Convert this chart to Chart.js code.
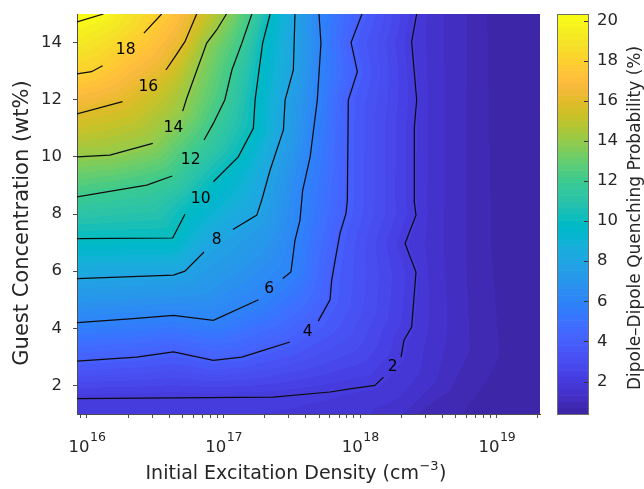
<!DOCTYPE html>
<html><head><meta charset="utf-8">
<script src="https://cdn.jsdelivr.net/npm/chart.js@4/dist/chart.umd.min.js"></script>
<style>html,body{margin:0;padding:0;background:#fff;}#wrap{width:644px;height:489px;}</style>
</head><body><div id="wrap"><canvas id="c" width="644" height="489"></canvas></div>
<script>
// ---------- axis ranges & ticks ----------
const xRange = [8.45e15, 2.07e19];
const yRange = [1, 15];
const cRange = [0.38, 20.33];
const xMajorTicks = [1e16, 1e17, 1e18, 1e19];
const xTickExponents = ['16', '17', '18', '19'];
const xMinorTicks = [9e15, 2e16, 3e16, 4e16, 5e16, 6e16, 7e16, 8e16, 9e16,
  2e17, 3e17, 4e17, 5e17, 6e17, 7e17, 8e17, 9e17,
  2e18, 3e18, 4e18, 5e18, 6e18, 7e18, 8e18, 9e18, 2e19];
const yTicks = [2, 4, 6, 8, 10, 12, 14];
const cbTicks = [2, 4, 6, 8, 10, 12, 14, 16, 18, 20];
const xTitleMain = 'Initial Excitation Density (cm';
const xTitleExp = '\u22123';
const xTitleEnd = ')';
const yTitle = 'Guest Concentration (wt%)';
const cTitle = 'Dipole\u2013Dipole Quenching Probability (%)';

// ---------- contour lines: [x (cm^-3), y (wt%)], null = label gap ----------
const contour2 = [[8.45e15,1.54],[2.30e17,1.59],[6.01e17,1.77],[8.41e17,1.88],[1.28e18,2.0],[1.48e18,2.29],null,
  [1.99e18,2.99],[2.09e18,3.58],[2.38e18,4.04],[2.56e18,5.97],[2.13e18,6.97],[2.56e18,7.96],[2.48e18,8.48],
  [2.49e18,11.05],[2.59e18,11.99],[2.38e18,14.03],[2.59e18,15]];
const contour4 = [[8.45e15,2.85],[2.31e16,2.99],[4.29e16,3.17],[8.41e16,2.88],[1.36e17,2.99],[1.85e17,3.19],[3.06e17,3.52],null,
  [4.93e17,4.25],[6.01e17,5.0],[6.18e17,5.68],[6.55e17,6.38],[7.11e17,7.32],[7.87e17,8.02],[8.05e17,8.48],
  [8.18e17,11.99],[9.53e17,12.98],[8.57e17,14.0],[1.03e18,15]];
const contour6 = [[8.45e15,4.20],[2.18e16,4.34],[4.29e16,4.45],[8.41e16,4.28],[1.80e17,5.0],null,
  [2.71e17,5.74],[3.11e17,5.97],[3.33e17,7.08],[3.62e17,7.78],[3.79e17,8.83],[4.30e17,10.0],[4.85e17,11.99],
  [5.16e17,13.98],[4.99e17,15]];
const contour8 = [[8.45e15,5.74],[4.29e16,5.86],[5.21e16,6.0],[7.19e16,6.67],null,
  [1.17e17,7.46],[1.75e17,7.96],[1.90e17,8.48],[2.19e17,9.54],[2.74e17,10.94],[2.82e17,11.99],[3.24e17,13.04],[3.33e17,15]];
const contour10 = [[8.45e15,7.14],[4.24e16,7.16],[5.21e16,7.99],null,
  [8.41e16,9.13],[1.28e17,10.0],[1.65e17,11.0],[1.70e17,11.99],[1.93e17,13.98],[2.19e17,15]];
const contour12 = [[8.45e15,8.60],[2.74e16,9.01],[4.21e16,9.33],null,
  [7.19e16,10.59],[8.41e16,11.17],[1.02e17,11.99],[1.15e17,13.04],[1.36e17,13.98],[1.61e17,15]];
const contour14 = [[8.45e15,10.0],[1.47e16,10.06],[3.03e16,10.47],null,
  [5.02e16,11.6],[5.37e16,12.05],[7.52e16,13.98],[8.89e16,14.44],[1.05e17,15]];
const contour16 = [[8.45e15,11.5],[1.82e16,11.93],null,
  [3.78e16,13.04],[4.41e16,13.51],[5.21e16,14.03],[6.35e16,15]];
const contour18 = [[8.45e15,12.9],[1.08e16,12.98],[1.30e16,13.19],null,
  [2.61e16,14.33],[3.52e16,15]];
const contour20 = [[8.45e15,14.72],[1.32e16,15]];
const contourLevels = [2, 4, 6, 8, 10, 12, 14, 16, 18, 20];
const contourLines = [contour2, contour4, contour6, contour8, contour10, contour12, contour14, contour16, contour18, contour20];

// faint band edges of the shading below 2 % (not drawn as lines), bottom -> top
const iso05 = [[7.53e18,1.0],[1.05e19,1.72],[1.43e19,2.98],[1.19e19,6.73],[1.05e19,15]];
const iso10 = [[2.61e18,1.0],[4.54e18,1.82],[6.37e18,3.23],[5.96e18,6.73],[6.05e18,15]];
const iso15 = [[1.40e18,1.0],[2.13e18,1.30],[3.08e18,2.28],[3.53e18,4.38],[3.30e18,6.73],[3.41e18,11.29],[3.24e18,15]];
const guideLevels = [0.5, 1.0, 1.5];
const guideLines = [iso05, iso10, iso15];

// contour labels: text, x, y
const labelText = ['18', '16', '14', '12', '10', '8', '6', '4', '2'];
const labelX = [1.92e16, 2.81e16, 4.29e16, 5.74e16, 6.79e16, 8.91e16, 2.16e17, 4.13e17, 1.73e18];
const labelY = [13.74, 12.46, 11.02, 9.89, 8.54, 7.08, 5.39, 3.87, 2.64];

// ---------- parula colormap (64 entries) ----------
const parula = [[0.2422,0.1504,0.6603],[0.2504,0.1650,0.7076],[0.2578,0.1818,0.7511],[0.2647,0.1978,0.7952],
[0.2706,0.2147,0.8364],[0.2751,0.2342,0.8710],[0.2783,0.2559,0.8991],[0.2803,0.2782,0.9221],[0.2813,0.3006,0.9414],
[0.2810,0.3228,0.9579],[0.2795,0.3447,0.9717],[0.2760,0.3667,0.9829],[0.2699,0.3892,0.9906],[0.2602,0.4123,0.9952],
[0.2440,0.4358,0.9988],[0.2206,0.4603,0.9973],[0.1963,0.4847,0.9892],[0.1834,0.5074,0.9798],[0.1786,0.5289,0.9682],
[0.1764,0.5499,0.9520],[0.1687,0.5703,0.9359],[0.1540,0.5902,0.9218],[0.1460,0.6091,0.9079],[0.1380,0.6276,0.8973],
[0.1248,0.6459,0.8883],[0.1113,0.6635,0.8763],[0.0952,0.6798,0.8598],[0.0689,0.6948,0.8394],[0.0297,0.7082,0.8163],
[0.0036,0.7203,0.7917],[0.0067,0.7312,0.7660],[0.0433,0.7411,0.7394],[0.0964,0.7500,0.7120],[0.1408,0.7584,0.6842],
[0.1717,0.7670,0.6554],[0.1938,0.7758,0.6251],[0.2161,0.7843,0.5923],[0.2470,0.7918,0.5567],[0.2906,0.7973,0.5188],
[0.3406,0.8008,0.4789],[0.3909,0.8029,0.4354],[0.4456,0.8024,0.3909],[0.5044,0.7993,0.3480],[0.5616,0.7942,0.3045],
[0.6174,0.7876,0.2612],[0.6720,0.7793,0.2227],[0.7242,0.7698,0.1910],[0.7738,0.7598,0.1646],[0.8203,0.7498,0.1535],
[0.8634,0.7406,0.1596],[0.9035,0.7330,0.1774],[0.9393,0.7288,0.2100],[0.9728,0.7298,0.2394],[0.9956,0.7434,0.2371],
[0.9970,0.7659,0.2199],[0.9952,0.7893,0.2028],[0.9892,0.8136,0.1885],[0.9786,0.8386,0.1766],[0.9676,0.8639,0.1643],
[0.9610,0.8890,0.1537],[0.9597,0.9135,0.1423],[0.9628,0.9373,0.1265],[0.9691,0.9606,0.1060],[0.9769,0.9839,0.0805]];

const FONT = '"DejaVu Sans", sans-serif';
const TXT = '#262626';
const AXC = '#4d4d4d';
Chart.defaults.font.family = FONT;
Chart.defaults.color = TXT;

function colorIndex(z) {
  let i = Math.floor((z - cRange[0]) / (cRange[1] - cRange[0]) * parula.length);
  return Math.max(0, Math.min(parula.length - 1, i));
}
function distPoly(px, py, pts) {
  let best = Infinity;
  for (let k = 0; k < pts.length - 1; k++) {
    const ax = pts[k][0], ay = pts[k][1], dx = pts[k + 1][0] - ax, dy = pts[k + 1][1] - ay;
    const l2 = dx * dx + dy * dy;
    let t = l2 > 0 ? ((px - ax) * dx + (py - ay) * dy) / l2 : 0;
    t = t < 0 ? 0 : (t > 1 ? 1 : t);
    const ex = ax + t * dx - px, ey = ay + t * dy - py;
    const d = ex * ex + ey * ey;
    if (d < best) best = d;
  }
  return Math.sqrt(best);
}
function buildHeat(chart, W, H) {
  const a = chart.chartArea, xs = chart.scales.x, ys = chart.scales.y;
  const P = (x, y) => [xs.getPixelForValue(x) - a.left, ys.getPixelForValue(y) - a.top];
  const list = [];
  guideLevels.forEach((v, i) => list.push({ value: v, pts: guideLines[i] }));
  contourLevels.forEach((v, i) => list.push({ value: v, pts: contourLines[i].filter(Boolean) }));
  list.sort((p, q) => p.value - q.value);
  const isos = list.map(it => ({ value: it.value, fromBottom: it.pts[0][1] <= yRange[0], px: it.pts.map(p => P(p[0], p[1])) }));
  const tl = P(xRange[0], yRange[1]), bl = P(xRange[0], yRange[0]);
  const n = isos.length;
  const count = new Uint8Array(W * H);
  const mc = document.createElement('canvas'); mc.width = W; mc.height = H;
  const m = mc.getContext('2d');
  isos.forEach(iso => {
    m.clearRect(0, 0, W, H);
    m.beginPath();
    iso.px.forEach((p, i) => i ? m.lineTo(p[0], p[1]) : m.moveTo(p[0], p[1]));
    m.lineTo(tl[0], tl[1]);
    if (iso.fromBottom) m.lineTo(bl[0], bl[1]);
    m.closePath(); m.fillStyle = '#000'; m.fill();
    const d = m.getImageData(0, 0, W, H).data;
    for (let i = 0; i < W * H; i++) if (d[i * 4 + 3] >= 128) count[i]++;
  });
  const out = document.createElement('canvas'); out.width = W; out.height = H;
  const o = out.getContext('2d');
  const img = o.createImageData(W, H);
  for (let y = 0; y < H; y++) {
    for (let x = 0; x < W; x++) {
      const idx = y * W + x, c = count[idx], px = x + 0.5, py = y + 0.5;
      let zLo, zHi, dLo, dHi;
      if (c === 0) {
        zLo = cRange[0]; dLo = Math.min(W - px, H - py);
        zHi = isos[0].value; dHi = distPoly(px, py, isos[0].px);
      } else if (c >= n) {
        zLo = isos[n - 1].value; dLo = distPoly(px, py, isos[n - 1].px);
        zHi = cRange[1]; dHi = Math.hypot(px - tl[0], py - tl[1]);
      } else {
        zLo = isos[c - 1].value; dLo = distPoly(px, py, isos[c - 1].px);
        zHi = isos[c].value; dHi = distPoly(px, py, isos[c].px);
      }
      const z = zLo + (zHi - zLo) * dLo / (dLo + dHi + 1e-9);
      const col = parula[colorIndex(z)];
      img.data[idx * 4] = Math.round(col[0] * 255);
      img.data[idx * 4 + 1] = Math.round(col[1] * 255);
      img.data[idx * 4 + 2] = Math.round(col[2] * 255);
      img.data[idx * 4 + 3] = 255;
    }
  }
  o.putImageData(img, 0, 0);
  return { canvas: out, w: W, h: H };
}

const heatPlugin = {
  id: 'heat',
  beforeDraw(chart) {
    const a = chart.chartArea;
    const W = Math.round(a.right - a.left), H = Math.round(a.bottom - a.top);
    if (!chart.$heat || chart.$heat.w !== W || chart.$heat.h !== H) chart.$heat = buildHeat(chart, W, H);
    chart.ctx.drawImage(chart.$heat.canvas, a.left, a.top);
  },
  afterDatasetsDraw(chart) {
    const ctx = chart.ctx, xs = chart.scales.x, ys = chart.scales.y;
    ctx.save();
    ctx.font = '15.5px ' + FONT; ctx.fillStyle = '#000';
    ctx.textAlign = 'center'; ctx.textBaseline = 'middle';
    labelText.forEach((t, i) => ctx.fillText(t, xs.getPixelForValue(labelX[i]), ys.getPixelForValue(labelY[i])));
    ctx.restore();
  },
  afterDraw(chart) {
    const ctx = chart.ctx, xs = chart.scales.x, ys = chart.scales.y, cb = chart.scales.cb;
    ctx.save();
    // x tick labels 10^n
    ctx.fillStyle = TXT; ctx.textBaseline = 'alphabetic'; ctx.textAlign = 'left';
    xMajorTicks.forEach((v, i) => {
      const x = xs.getPixelForValue(v);
      ctx.font = '16.5px ' + FONT; const w1 = ctx.measureText('10').width;
      ctx.font = '12.5px ' + FONT; const w2 = ctx.measureText(xTickExponents[i]).width;
      const x0 = x - (w1 + w2) / 2;
      ctx.font = '16.5px ' + FONT; ctx.fillText('10', x0, xs.top + 38);
      ctx.font = '12.5px ' + FONT; ctx.fillText(xTickExponents[i], x0 + w1 + 0.5, xs.top + 27);
    });
    // x axis title with superscript
    ctx.font = '19px ' + FONT; const t1 = ctx.measureText(xTitleMain).width, t3 = ctx.measureText(xTitleEnd).width;
    ctx.font = '13px ' + FONT; const t2 = ctx.measureText(xTitleExp).width;
    const cx = (xs.left + xs.right) / 2 - 13;
    let tx = cx - (t1 + t2 + t3) / 2;
    const base = xs.top + 65;
    ctx.font = '19px ' + FONT; ctx.fillText(xTitleMain, tx, base); tx += t1;
    ctx.font = '13px ' + FONT; ctx.fillText(xTitleExp, tx + 0.5, base - 9); tx += t2 + 1;
    ctx.font = '19px ' + FONT; ctx.fillText(xTitleEnd, tx, base);
    // y axis title
    ctx.save();
    ctx.translate(23, (ys.top + ys.bottom) / 2 + 9);
    ctx.rotate(-Math.PI / 2);
    ctx.font = '21px ' + FONT; ctx.textAlign = 'center'; ctx.textBaseline = 'middle';
    ctx.fillText(yTitle, 0, 0);
    ctx.restore();
    // colorbar
    const barW = 31, L = cb.left, n = parula.length, step = (cRange[1] - cRange[0]) / n;
    for (let i = 0; i < n; i++) {
      const y0 = cb.getPixelForValue(cRange[0] + i * step), y1 = cb.getPixelForValue(cRange[0] + (i + 1) * step);
      const c = parula[i];
      ctx.fillStyle = `rgb(${Math.round(c[0] * 255)},${Math.round(c[1] * 255)},${Math.round(c[2] * 255)})`;
      ctx.fillRect(L, y1, barW, y0 - y1 + 0.6);
    }
    ctx.strokeStyle = '#6e6e6e'; ctx.lineWidth = 1;
    ctx.strokeRect(L + 0.5, cb.top + 0.5, barW, cb.bottom - cb.top);
    ctx.strokeStyle = '#333';
    ctx.beginPath();
    cbTicks.forEach(v => { const y = Math.round(cb.getPixelForValue(v)) + 0.5; ctx.moveTo(L + barW - 4, y); ctx.lineTo(L + barW, y); });
    ctx.stroke();
    // colorbar title
    ctx.translate(L + 79, (cb.top + cb.bottom) / 2 + 4);
    ctx.rotate(-Math.PI / 2);
    ctx.font = '17px ' + FONT; ctx.fillStyle = TXT; ctx.textAlign = 'center'; ctx.textBaseline = 'middle';
    ctx.fillText(cTitle, 0, 0);
    ctx.restore();
  }
};

function zeroPad(s) { s.paddingTop = 0; s.paddingBottom = 0; s.paddingLeft = 0; s.paddingRight = 0; }
function toData(arr) {
  const out = [];
  arr.forEach(p => { if (p) out.push({ x: p[0], y: p[1] }); else out.push({ x: out[out.length - 1].x, y: null }); });
  return out;
}

new Chart(document.getElementById('c'), {
  type: 'scatter',
  data: {
    datasets: contourLines.map((c, i) => ({
      label: 'level ' + contourLevels[i], data: toData(c), showLine: true, spanGaps: false,
      pointRadius: 0, borderColor: '#0d0d0d', borderWidth: 1.25, tension: 0, fill: false
    }))
  },
  options: {
    responsive: false, animation: false, devicePixelRatio: 1,
    layout: { padding: { top: 14, left: 0, right: 0, bottom: 0 } },
    plugins: { legend: { display: false }, tooltip: { enabled: false } },
    events: [],
    scales: {
      x: {
        type: 'logarithmic', position: 'bottom', min: xRange[0], max: xRange[1],
        afterBuildTicks: s => { s.ticks = xMinorTicks.concat(xMajorTicks).sort((p, q) => p - q).map(v => ({ value: v, major: xMajorTicks.includes(v) })); },
        afterFit: s => { s.height = 75; zeroPad(s); },
        ticks: { display: false },
        grid: { drawOnChartArea: false, drawTicks: true, tickLength: 4, color: AXC, tickColor: AXC },
        border: { display: true, color: AXC, width: 1 },
        title: { display: false }
      },
      y: {
        type: 'linear', position: 'left', min: yRange[0], max: yRange[1],
        afterBuildTicks: s => { s.ticks = yTicks.map(v => ({ value: v })); },
        afterFit: s => { s.width = 77; zeroPad(s); },
        ticks: { font: { size: 16.5 }, color: TXT, padding: 11 },
        grid: { drawOnChartArea: false, drawTicks: true, tickLength: 4, color: AXC, tickColor: AXC },
        border: { display: true, color: AXC, width: 1 },
        title: { display: false }
      },
      gap: {
        type: 'linear', position: 'right', weight: 1, min: 0, max: 1,
        afterFit: s => { s.width = 17; zeroPad(s); },
        ticks: { display: false }, grid: { display: false }, border: { display: false }
      },
      cb: {
        type: 'linear', position: 'right', weight: 2, min: cRange[0], max: cRange[1],
        afterBuildTicks: s => { s.ticks = cbTicks.map(v => ({ value: v })); },
        afterFit: s => { s.width = 87; zeroPad(s); },
        ticks: { font: { size: 16.5 }, color: TXT, padding: 40 },
        grid: { display: false, drawTicks: false }, border: { display: false }
      }
    }
  },
  plugins: [heatPlugin]
});
</script></body></html>
